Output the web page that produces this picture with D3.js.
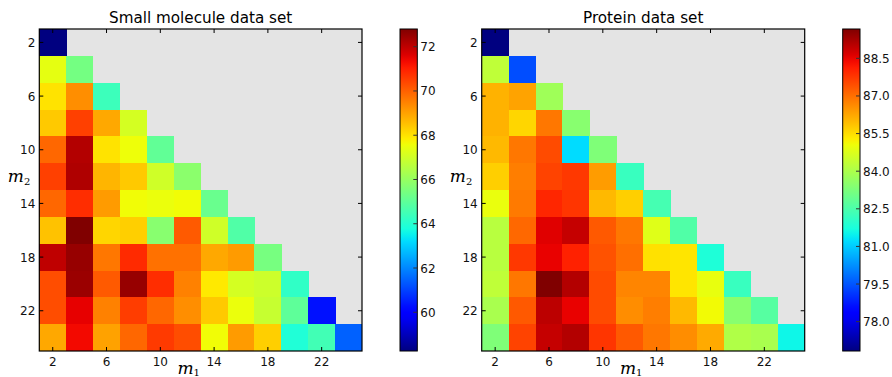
<!DOCTYPE html>
<html>
<head>
<meta charset="utf-8">
<script src="https://cdn.jsdelivr.net/npm/d3@7"></script>
<style>
  body { margin: 0; background: #fff; }
  svg { display: block; font-family: "DejaVu Sans", sans-serif; }
</style>
</head>
<body>
<div id="chart"></div>
<script>
// m1 / m2 values (both axes)
const mValues = [2, 4, 6, 8, 10, 12, 14, 16, 18, 20, 22, 24];
const tickLabels = [2, 6, 10, 14, 18, 22];

// lower triangle, row = m2, column = m1
const smallMolecule = [
  [58.25],
  [67.4, 65.4],
  [68.0, 69.3, 64.4],
  [68.4, 70.5, 68.9, 67.1],
  [69.9, 72.15, 68.0, 67.55, 65.05],
  [70.5, 72.2, 68.7, 68.4, 67.0, 65.8],
  [69.9, 70.8, 69.1, 67.6, 67.5, 67.6, 65.2],
  [68.5, 72.8, 68.2, 68.3, 65.75, 70.1, 67.0, 64.75],
  [72.0, 72.5, 69.65, 70.85, 69.75, 69.75, 68.9, 69.1, 65.45],
  [70.3, 72.45, 70.1, 72.5, 70.8, 69.5, 67.9, 67.1, 66.95, 64.2],
  [70.3, 71.5, 69.5, 70.55, 69.9, 69.3, 68.4, 67.5, 66.85, 65.0, 60.3],
  [68.9, 71.35, 69.0, 69.9, 70.6, 70.3, 67.6, 69.1, 68.3, 63.9, 64.5, 61.45]
];
const smallTicks = [60, 62, 64, 66, 68, 70, 72];

const protein = [
  [76.83],
  [84.3, 79.4],
  [86.1, 86.3, 83.8],
  [86.1, 85.6, 86.9, 83.45],
  [86.0, 86.9, 87.5, 81.2, 83.3],
  [85.7, 86.8, 87.6, 87.75, 86.4, 82.2],
  [84.98, 86.85, 88.0, 87.8, 86.0, 85.7, 82.4],
  [84.2, 87.1, 88.6, 88.9, 87.3, 86.9, 84.8, 82.57],
  [84.2, 87.75, 88.5, 88.06, 87.4, 87.0, 85.46, 85.4, 81.8],
  [84.3, 86.9, 89.67, 89.1, 87.5, 86.7, 86.7, 85.4, 84.95, 82.2],
  [83.96, 87.3, 89.0, 88.5, 87.5, 86.6, 86.8, 86.0, 85.1, 83.45, 82.67],
  [83.3, 87.6, 88.9, 89.1, 87.8, 87.3, 86.9, 86.6, 86.2, 84.07, 83.96, 81.55]
];
const proteinTicks = [78.0, 79.5, 81.0, 82.5, 84.0, 85.5, 87.0, 88.5];

// matplotlib jet segments
const jetR = d3.scaleLinear().domain([0, 0.35, 0.66, 0.89, 1]).range([0, 0, 1, 1, 0.5]).clamp(true);
const jetG = d3.scaleLinear().domain([0, 0.125, 0.375, 0.64, 0.91, 1]).range([0, 0, 1, 1, 0, 0]).clamp(true);
const jetB = d3.scaleLinear().domain([0, 0.11, 0.34, 0.65, 1]).range([0.5, 1, 1, 0, 0]).clamp(true);
function jet(t) {
  return d3.rgb(jetR(t) * 255, jetG(t) * 255, jetB(t) * 255).formatHex();
}

const W = 892, H = 377;
const svg = d3.select("#chart").append("svg").attr("width", W).attr("height", H);

function panel(cfg) {
  const { data, title, ticks, fmt, ax, cb } = cfg;
  const flat = data.flat();
  const vmin = d3.min(flat), vmax = d3.max(flat);
  const norm = d3.scaleLinear().domain([vmin, vmax]).range([0, 1]);

  const x = d3.scaleLinear().domain([1, 25]).range([ax.x0, ax.x1]);
  const y = d3.scaleLinear().domain([1, 25]).range([ax.y0, ax.y1]);

  const g = svg.append("g");
  g.append("rect")
    .attr("x", ax.x0).attr("y", ax.y0)
    .attr("width", ax.x1 - ax.x0).attr("height", ax.y1 - ax.y0)
    .attr("fill", "#e4e4e4");

  const cells = [];
  data.forEach((row, i) => row.forEach((v, j) => cells.push({ m1: mValues[j], m2: mValues[i], v })));
  g.selectAll("rect.cell").data(cells).join("rect")
    .attr("class", "cell")
    .attr("x", d => x(d.m1 - 1))
    .attr("y", d => y(d.m2 - 1))
    .attr("width", d => x(d.m1 + 1) - x(d.m1 - 1) + 0.4)
    .attr("height", d => y(d.m2 + 1) - y(d.m2 - 1) + 0.4)
    .attr("fill", d => jet(norm(d.v)))
    .attr("shape-rendering", "crispEdges");

  // ticks pointing inward on all sides
  const tl = 4;
  tickLabels.forEach(t => {
    g.append("line").attr("x1", x(t)).attr("x2", x(t)).attr("y1", ax.y1).attr("y2", ax.y1 - tl).attr("stroke", "#000");
    g.append("line").attr("x1", x(t)).attr("x2", x(t)).attr("y1", ax.y0).attr("y2", ax.y0 + tl).attr("stroke", "#000");
    g.append("line").attr("y1", y(t)).attr("y2", y(t)).attr("x1", ax.x0).attr("x2", ax.x0 + tl).attr("stroke", "#000");
    g.append("line").attr("y1", y(t)).attr("y2", y(t)).attr("x1", ax.x1).attr("x2", ax.x1 - tl).attr("stroke", "#000");
    g.append("text").attr("x", x(t)).attr("y", ax.y1 + 15).attr("text-anchor", "middle")
      .attr("font-size", 12).attr("fill", "#111").text(t);
    g.append("text").attr("x", ax.x0 - 4).attr("y", y(t) + 4.5).attr("text-anchor", "end")
      .attr("font-size", 12).attr("fill", "#111").text(t);
  });

  g.append("rect")
    .attr("x", ax.x0).attr("y", ax.y0)
    .attr("width", ax.x1 - ax.x0).attr("height", ax.y1 - ax.y0)
    .attr("fill", "none").attr("stroke", "#000").attr("stroke-width", 1.2);

  g.append("text").attr("x", (ax.x0 + ax.x1) / 2).attr("y", 23).attr("text-anchor", "middle")
    .attr("font-size", 15.2).attr("fill", "#000").text(title);

  // axis labels
  const mx = g.append("text").attr("x", (ax.x0 + ax.x1) / 2 - 12).attr("y", 374)
    .attr("text-anchor", "middle").attr("font-family", "'DejaVu Serif', serif").attr("font-size", 17).attr("fill", "#000");
  mx.append("tspan").attr("font-style", "italic").text("m");
  mx.append("tspan").attr("font-size", 10).attr("dy", 2).text("1");
  const my = g.append("text").attr("x", ax.labelX).attr("y", (ax.y0 + ax.y1) / 2 - 8)
    .attr("text-anchor", "middle").attr("font-family", "'DejaVu Serif', serif").attr("font-size", 17).attr("fill", "#000");
  my.append("tspan").attr("font-style", "italic").text("m");
  my.append("tspan").attr("font-size", 10).attr("dy", 3).text("2");

  // colorbar
  const gid = "grad" + cfg.id;
  const grad = svg.append("defs").append("linearGradient").attr("id", gid)
    .attr("x1", 0).attr("y1", 1).attr("x2", 0).attr("y2", 0);
  d3.range(0, 1.0001, 0.02).forEach(t => {
    grad.append("stop").attr("offset", t).attr("stop-color", jet(t));
  });
  const cy = d3.scaleLinear().domain([vmin, vmax]).range([cb.y1, cb.y0]);
  g.append("rect").attr("x", cb.x0).attr("y", cb.y0).attr("width", cb.x1 - cb.x0).attr("height", cb.y1 - cb.y0)
    .attr("fill", `url(#${gid})`).attr("stroke", "#000").attr("stroke-width", 1);
  ticks.forEach(t => {
    g.append("line").attr("x1", cb.x1).attr("x2", cb.x1 - 4).attr("y1", cy(t)).attr("y2", cy(t)).attr("stroke", "#333");
    g.append("text").attr("x", cb.x1 + 3).attr("y", cy(t) + 4.5).attr("font-size", 12).attr("fill", "#111").text(fmt(t));
  });
}

panel({
  id: "a", data: smallMolecule, title: "Small molecule data set", ticks: smallTicks, fmt: d3.format("d"),
  ax: { x0: 39.3, x1: 362, y0: 29, y1: 351, labelX: 19 },
  cb: { x0: 400, x1: 417.3, y0: 29, y1: 351 }
});
panel({
  id: "b", data: protein, title: "Protein data set", ticks: proteinTicks, fmt: d3.format(".1f"),
  ax: { x0: 481.7, x1: 804.7, y0: 29, y1: 351, labelX: 461 },
  cb: { x0: 842.7, x1: 860, y0: 29, y1: 351 }
});
</script>
</body>
</html>
